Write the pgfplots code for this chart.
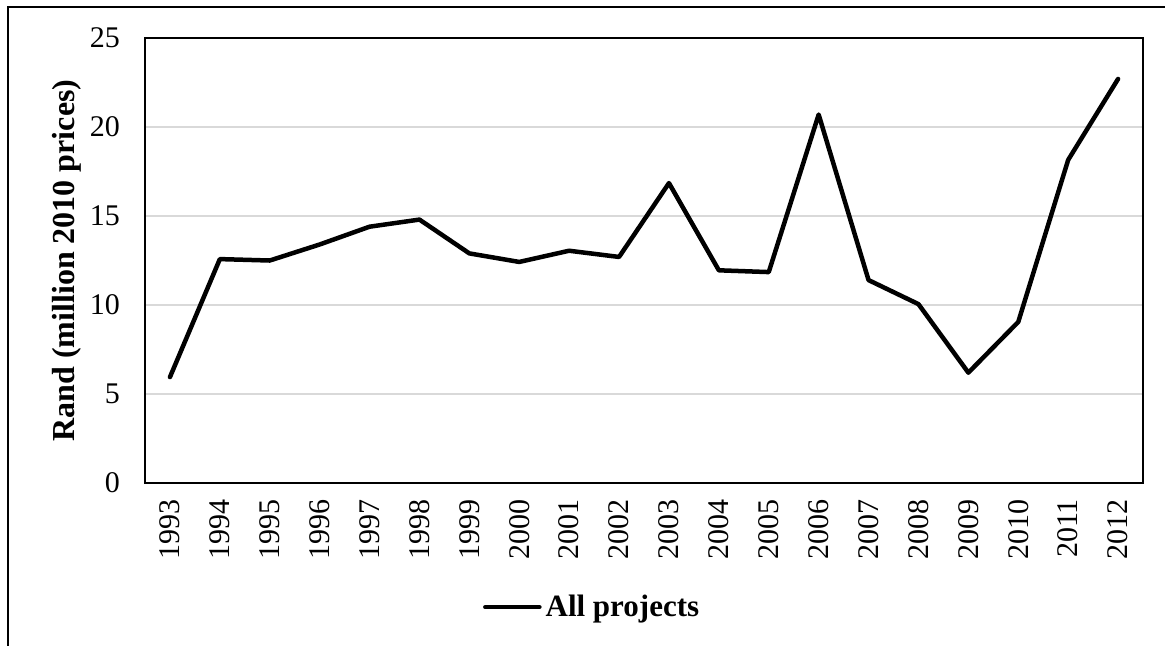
\documentclass[border=0pt]{standalone}
\usepackage{pgfplots}
\pgfplotsset{compat=1.18}
\usepackage{fontspec}
\setmainfont{Liberation Serif}
\begin{document}
\begin{tikzpicture}
\useasboundingbox (0pt,0pt) rectangle (582.5pt,-322.5pt);
\draw[line width=0.9pt] (4pt,-340pt) -- (4pt,-3.5pt) -- (600pt,-3.5pt);
\begin{axis}[
  at={(72.5pt,-241.5pt)}, anchor=south west,
  scale only axis, width=499pt, height=222.5pt,
  xmin=-0.5, xmax=19.5, ymin=0, ymax=25,
  xtick={0,...,19},
  xticklabels={1993,1994,1995,1996,1997,1998,1999,2000,2001,2002,2003,2004,2005,2006,2007,2008,2009,2010,2011,2012},
  ytick={0,5,10,15,20,25},
  major tick length=0pt,
  ymajorgrids, grid style={draw=black!15, line width=0.6pt},
  axis line style={line width=0.7pt},
  tick label style={font=\fontsize{15}{18}\selectfont},
  /pgf/number format/assume math mode=true,
  xticklabel style={rotate=90, anchor=east, xshift=-4.5pt},
  yticklabel style={anchor=east, xshift=-9pt},
  ylabel={\textbf{Rand (million 2010 prices)}},
  ylabel style={font=\fontsize{16}{19}\selectfont, at={(axis description cs:-0.078,0.5)}, anchor=center},
  legend style={at={(axis description cs:0.449,-0.279)}, anchor=center, draw=none, fill=none, font=\fontsize{15.5}{18}\selectfont\bfseries, inner sep=0pt},
  legend image code/.code={\draw[line width=2.25pt, line cap=round] (0cm,0cm) -- (0.95cm,0cm);},
  legend cell align=left,
]
\addplot[line width=2.25pt, line join=round, line cap=round, black] coordinates {
(0,5.95) (1,12.58) (2,12.5) (3,13.4) (4,14.4) (5,14.8) (6,12.9) (7,12.42) (8,13.05) (9,12.7)
(10,16.85) (11,11.95) (12,11.85) (13,20.7) (14,11.4) (15,10.05) (16,6.2) (17,9.05) (18,18.15) (19,22.7)
};
\addlegendentry{All projects}
\end{axis}
\end{tikzpicture}
\end{document}
